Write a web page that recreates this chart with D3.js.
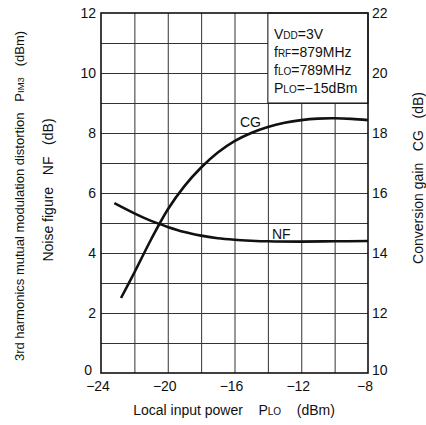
<!DOCTYPE html>
<html>
<head>
<meta charset="utf-8">
<script src="https://cdn.jsdelivr.net/npm/d3@7"></script>
<style>
  body { margin: 0; background: #fff; }
  svg { display: block; font-family: "Liberation Sans", Arial, sans-serif; }
  text { white-space: pre; }
</style>
</head>
<body>
<svg width="426" height="425"></svg>
<script>
'use strict'

// local input power (dBm) and measured curves
const cgX = [-22.8, -22, -21, -20, -19, -18, -17, -16, -15, -14, -13, -12, -11, -10, -9, -8]
const cgY = [12.5, 13.35, 14.45, 15.45, 16.23, 16.85, 17.35, 17.73, 18.0, 18.2, 18.34, 18.43, 18.48, 18.49, 18.47, 18.43]
const nfX = [-23.2, -22, -21, -20, -19, -18, -17, -16, -15, -14, -12, -10, -8]
const nfY = [5.66, 5.32, 5.07, 4.87, 4.7, 4.58, 4.49, 4.44, 4.41, 4.39, 4.38, 4.39, 4.4]

const xTicks = [-24, -20, -16, -12, -8]
const xGrid = [-22, -20, -18, -16, -14, -12, -10]
const yGrid = [1, 2, 3, 4, 5, 6, 7, 8, 9, 10, 11]
const leftTicks = [0, 2, 4, 6, 8, 10, 12]
const rightTicks = [10, 12, 14, 16, 18, 20, 22]
const conditions = [
    ['V', 'DD', '=3V'],
    ['f', 'RF', '=879MHz'],
    ['f', 'LO', '=789MHz'],
    ['P', 'LO', '=\u221215dBm']
]

const pLeft = 101, pRight = 368, pTop = 13, pBottom = 373

const svg = d3.select('svg')

const x = d3.scaleLinear().domain([-24, -8]).range([pLeft, pRight])
const yL = d3.scaleLinear().domain([0, 12]).range([pBottom, pTop])
const yR = d3.scaleLinear().domain([10, 22]).range([pBottom, pTop])

// grid drawn with axes whose ticks span the plot
const gridG = svg.append('g').attr('class', 'grid')
gridG.append('g')
    .attr('transform', `translate(0,${pBottom})`)
    .call(d3.axisBottom(x).tickValues(xGrid).tickSize(-(pBottom - pTop)).tickFormat(''))
gridG.append('g')
    .attr('transform', `translate(${pLeft},0)`)
    .call(d3.axisLeft(yL).tickValues(yGrid).tickSize(-(pRight - pLeft)).tickFormat(''))
gridG.selectAll('.domain').remove()
gridG.selectAll('.tick line').attr('stroke', '#333').attr('stroke-width', 1)

// conditions box hides the grid behind it
svg.append('rect')
    .attr('x', x(-14)).attr('y', pTop)
    .attr('width', x(-8) - x(-14)).attr('height', yL(9) - pTop)
    .attr('fill', '#fff').attr('stroke', '#111').attr('stroke-width', 1)

const cond = svg.append('g').attr('font-size', 14).attr('fill', '#111')
conditions.forEach((c, i) => {
    const t = cond.append('text').attr('x', 274).attr('y', 39 + i * 18)
    t.append('tspan').text(c[0])
    t.append('tspan').attr('font-size', 10).text(c[1])
    t.append('tspan').text(c[2])
})

// frame
svg.append('rect')
    .attr('x', pLeft).attr('y', pTop)
    .attr('width', pRight - pLeft).attr('height', pBottom - pTop)
    .attr('fill', 'none').attr('stroke', '#111').attr('stroke-width', 1.6)

// curves
const line = d3.line().curve(d3.curveCatmullRom.alpha(0.5))
svg.append('path')
    .attr('d', line(cgX.map((v, i) => [x(v), yR(cgY[i])])))
    .attr('fill', 'none').attr('stroke', '#111').attr('stroke-width', 2.6)
svg.append('path')
    .attr('d', line(nfX.map((v, i) => [x(v), yL(nfY[i])])))
    .attr('fill', 'none').attr('stroke', '#111').attr('stroke-width', 2.6)

svg.append('text').attr('x', 240).attr('y', 127).attr('font-size', 14).attr('fill', '#111').text('CG')
svg.append('text').attr('x', 272).attr('y', 239).attr('font-size', 14).attr('fill', '#111').text('NF')

// tick labels
const tl = svg.append('g').attr('font-size', 14).attr('fill', '#111')
tl.selectAll('text.l').data(leftTicks).join('text')
    .attr('class', 'l')
    .attr('x', d => d === 0 ? 92 : 96).attr('y', d => yL(d) + 5 - (d === 0 ? 3 : 0))
    .attr('text-anchor', 'end').text(d => d)
tl.selectAll('text.r').data(rightTicks).join('text')
    .attr('class', 'r')
    .attr('x', 372).attr('y', d => yR(d) + 5 - (d === 10 ? 3 : 0))
    .text(d => d)
tl.selectAll('text.x').data(xTicks).join('text')
    .attr('class', 'x')
    .attr('x', d => x(d) - 3).attr('y', 391)
    .attr('text-anchor', 'middle').text(d => String(d).replace('-', '\u2212'))

// axis titles
const at = svg.append('g').attr('font-size', 14).attr('fill', '#111')
const xt = at.append('text').attr('x', 234).attr('y', 415).attr('text-anchor', 'middle')
xt.append('tspan').text('Local input power    P')
xt.append('tspan').attr('font-size', 10).text('LO')
xt.append('tspan').text('    (dBm)')

const l1 = at.append('text').attr('transform', 'translate(24,196) rotate(-90)')
    .attr('text-anchor', 'middle').attr('font-size', 13)
l1.append('tspan').text('3rd harmonics mutual modulation distortion   P')
l1.append('tspan').attr('font-size', 9.5).text('IM3')
l1.append('tspan').text('   (dBm)')

at.append('text').attr('transform', 'translate(53,190) rotate(-90)').attr('text-anchor', 'middle')
    .text('Noise figure   NF   (dB)')

at.append('text').attr('transform', 'translate(423,178) rotate(-90)').attr('text-anchor', 'middle')
    .text('Conversion gain   CG   (dB)')
</script>
</body>
</html>
